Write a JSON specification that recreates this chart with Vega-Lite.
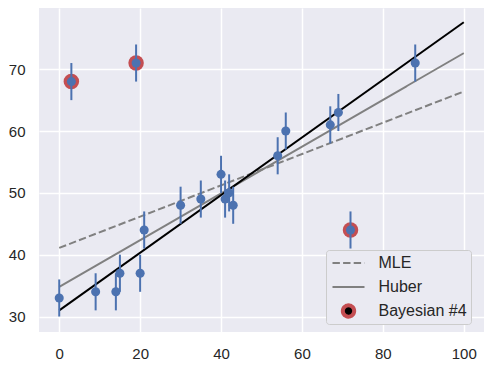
{
  "$schema": "https://vega.github.io/schema/vega-lite/v6.json",
  "width": 445,
  "height": 324,
  "autosize": {"type": "none"},
  "padding": {"left": 39, "top": 8, "right": 7, "bottom": 36},
  "background": "white",
  "config": {
    "view": {"fill": "#EAEAF2", "stroke": null},
    "axis": {
      "domain": false,
      "ticks": false,
      "grid": true,
      "gridColor": "white",
      "gridWidth": 1.5,
      "labelFont": "Liberation Sans",
      "labelFontSize": 15,
      "labelColor": "#262626",
      "labelPadding": 14,
      "title": null
    }
  },
  "datasets": {
    "pts": [
      {"x": 0, "y": 33, "e": 3}, {"x": 3, "y": 68, "e": 3}, {"x": 9, "y": 34, "e": 3},
      {"x": 14, "y": 34, "e": 3}, {"x": 15, "y": 37, "e": 3}, {"x": 19, "y": 71, "e": 3},
      {"x": 20, "y": 37, "e": 3}, {"x": 21, "y": 44, "e": 3}, {"x": 30, "y": 48, "e": 3},
      {"x": 35, "y": 49, "e": 3}, {"x": 40, "y": 53, "e": 3}, {"x": 41, "y": 49, "e": 3},
      {"x": 42, "y": 50, "e": 3}, {"x": 43, "y": 48, "e": 3}, {"x": 54, "y": 56, "e": 3},
      {"x": 56, "y": 60, "e": 3}, {"x": 67, "y": 61, "e": 3}, {"x": 69, "y": 63, "e": 3},
      {"x": 72, "y": 44, "e": 3}, {"x": 88, "y": 71, "e": 3}
    ],
    "outliers": [
      {"x": 3, "y": 68},
      {"x": 19, "y": 71},
      {"x": 72, "y": 44}
    ],
    "fits": [
      {"model": "MLE", "x": 0, "y": 41.1}, {"model": "MLE", "x": 100, "y": 66.4},
      {"model": "Huber", "x": 0, "y": 34.8}, {"model": "Huber", "x": 100, "y": 72.6}
    ],
    "bayes": [
      {"x": 0, "y": 31.0}, {"x": 100, "y": 77.6}
    ]
  },
  "encoding": {
    "x": {"field": "x", "type": "quantitative", "scale": {"domain": [-5, 105], "nice": false, "zero": false}, "axis": {"values": [0, 20, 40, 60, 80, 100], "title": null}},
    "y": {"field": "y", "type": "quantitative", "scale": {"domain": [27.5, 79.9], "nice": false, "zero": false}, "axis": {"values": [30, 40, 50, 60, 70], "title": null}}
  },
  "layer": [
    {
      "data": {"name": "fits"},
      "mark": {"type": "line", "strokeWidth": 2},
      "encoding": {
        "color": {
          "field": "model", "type": "nominal",
          "scale": {"domain": ["MLE", "Huber", "Bayesian #4"], "range": ["gray", "gray", "#C44E52"]},
          "legend": {
            "title": null,
            "orient": "none",
            "legendX": 287,
            "legendY": 242,
            "fillColor": "#EAEAF2",
            "strokeColor": "#CCCCCC",
            "cornerRadius": 3,
            "padding": 4,
            "labelFont": "Liberation Sans",
            "labelFontSize": 16,
            "labelColor": "#262626",
            "symbolSize": 128,
            "symbolOffset": 10.5,
            "labelOffset": 22,
            "rowPadding": 6,
            "clipHeight": 18,
            "symbolOpacity": 1,
            "encode": {
              "symbols": {
                "update": {
                  "shape": {"signal": "datum.value === 'Bayesian #4' ? 'circle' : 'M-2.83,0H2.83'"},
                  "fill": {"signal": "datum.value === 'Bayesian #4' ? 'black' : 'transparent'"},
                  "strokeWidth": {"signal": "datum.value === 'Bayesian #4' ? 4 : 2"},
                  "opacity": {"value": 1}
                }
              }
            }
          }
        },
        "strokeDash": {
          "field": "model", "type": "nominal",
          "scale": {"domain": ["MLE", "Huber", "Bayesian #4"], "range": [[7.4, 3.2], [1, 0], [1, 0]]},
          "legend": {"title": null}
        }
      }
    },
    {
      "data": {"name": "bayes"},
      "mark": {"type": "line", "strokeWidth": 2, "color": "black"},
      "encoding": {}
    },
    {
      "data": {"name": "outliers"},
      "mark": {"type": "circle", "size": 240, "opacity": 1, "color": "#C44E52"},
      "encoding": {}
    },
    {
      "data": {"name": "pts"},
      "mark": {"type": "errorbar", "color": "#4C72B0", "thickness": 2},
      "encoding": {
        "yError": {"field": "e"}
      }
    },
    {
      "data": {"name": "pts"},
      "mark": {"type": "circle", "size": 82, "opacity": 1, "color": "#4C72B0"},
      "encoding": {}
    }
  ]
}
